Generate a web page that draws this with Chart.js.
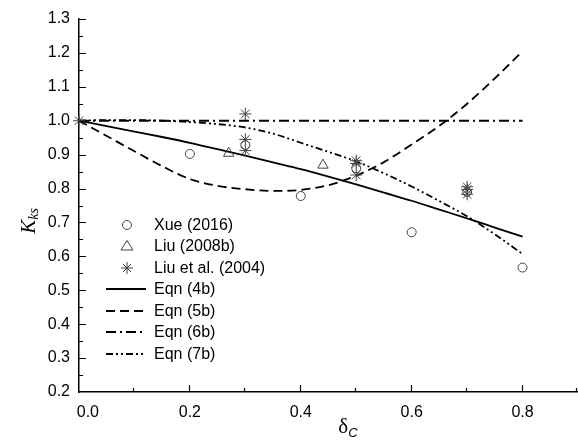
<!DOCTYPE html>
<html>
<head>
<meta charset="utf-8">
<script src="https://cdn.jsdelivr.net/npm/chart.js@4.4.1/dist/chart.umd.min.js"></script>
<style>
  html, body { margin: 0; padding: 0; background: #fff; overflow: hidden; }
  #wrap { position: relative; width: 578px; height: 444px; overflow: hidden; }
  canvas { position: absolute; left: 0; top: 0; }
  .lg { position: absolute; font-family: "Liberation Sans", Arial, sans-serif; font-size: 16px; color: #000; line-height: 16px; white-space: nowrap; }
  .sym { position: absolute; }
  #ytitle { position: absolute; left: 29px; top: 221px; transform: translate(-50%, -50%) rotate(-90deg); font-family: "Liberation Serif", "Times New Roman", serif; font-size: 21px; white-space: nowrap; color: #000; }
  #ytitle sub { font-size: 14px; vertical-align: -3px; }
  #xtitle { position: absolute; left: 348px; top: 427px; transform: translate(-50%, -50%); font-family: "Liberation Serif", "Times New Roman", serif; font-size: 21px; white-space: nowrap; color: #000; }
  #xtitle sub { font-size: 13px; font-style: italic; vertical-align: -4px; font-family: "Liberation Sans", Arial, sans-serif; }
</style>
</head>
<body>
<div id="wrap">
  <!-- canvas is 11px wider than the view: Chart.js reserves 11px (tick padding) at the right,
       so the 0.9 end of the x axis lands exactly on the right edge of the 578px picture -->
  <canvas id="c" width="589" height="444"></canvas>
  <div id="ytitle"><i>K</i><sub><i>ks</i></sub></div>
  <div id="xtitle">δ<sub>C</sub></div>
  <div id="legend"></div>
</div>
<script>
// ---------- data ----------
const xTickLabels = ['0.0', '0.2', '0.4', '0.6', '0.8'];
const yTickLabels = ['0.2', '0.3', '0.4', '0.5', '0.6', '0.7', '0.8', '0.9', '1.0', '1.1', '1.2', '1.3'];

const xueX = [0.2, 0.3, 0.4, 0.5, 0.6, 0.7, 0.8];
const xueY = [0.902, 0.928, 0.778, 0.860, 0.671, 0.790, 0.567];

const liu2008X = [0.27, 0.44];
const liu2008Y = [0.904, 0.869];

const liu2004X = [0.0, 0.3, 0.3, 0.3, 0.5, 0.5, 0.5, 0.7, 0.7, 0.7];
const liu2004Y = [1.0, 1.02, 0.945, 0.912, 0.882, 0.874, 0.840, 0.805, 0.797, 0.783];

const eqnX   = [0, 0.05, 0.1, 0.15, 0.2, 0.25, 0.3, 0.35, 0.4, 0.45, 0.5, 0.55, 0.6, 0.65, 0.7, 0.75, 0.8];
const eqn4bY = [1.0, 0.984, 0.968, 0.952, 0.935, 0.916, 0.897, 0.877, 0.857, 0.835, 0.812, 0.788, 0.764, 0.738, 0.712, 0.685, 0.658];
const eqn5bY = [1.0, 0.955, 0.910, 0.866, 0.828, 0.808, 0.798, 0.793, 0.796, 0.810, 0.838, 0.878, 0.930, 0.985, 1.050, 1.125, 1.205];
const eqn6bX = [0, 0.8];
const eqn6bY = [1.0, 1.0];
const eqn7bY = [1.0, 1.002, 1.002, 1.0, 0.996, 0.990, 0.980, 0.962, 0.935, 0.908, 0.880, 0.845, 0.806, 0.763, 0.718, 0.665, 0.607];

const seriesNames = ['Xue (2016)', 'Liu (2008b)', 'Liu et al. (2004)', 'Eqn (4b)', 'Eqn (5b)', 'Eqn (6b)', 'Eqn (7b)'];

// ---------- helpers ----------
const zip = (xs, ys) => xs.map((x, i) => ({ x: x, y: ys[i] }));
const MARK = '#444';
const dashes = {
  solid: [],
  dash: [9, 5],
  dashDot: [10, 4, 2, 4],
  dashDotDot: [7, 3, 2, 3, 2, 3]
};

function lineDS(label, xs, ys, dash) {
  return {
    label: label, data: zip(xs, ys), showLine: true, borderColor: '#000', borderWidth: 1.8,
    borderDash: dash, pointRadius: 0, cubicInterpolationMode: 'monotone', fill: false, clip: false, order: 2
  };
}
function markDS(label, xs, ys, style, r) {
  return {
    label: label, data: zip(xs, ys), showLine: false, pointStyle: style, pointRadius: r,
    pointBorderColor: MARK, pointBackgroundColor: 'rgba(255,255,255,0)', pointBorderWidth: 1,
    clip: false, order: 1
  };
}

const datasets = [
  lineDS(seriesNames[3], eqnX, eqn4bY, dashes.solid),
  lineDS(seriesNames[4], eqnX, eqn5bY, dashes.dash),
  lineDS(seriesNames[5], eqn6bX, eqn6bY, dashes.dashDot),
  lineDS(seriesNames[6], eqnX, eqn7bY, dashes.dashDotDot),
  markDS(seriesNames[0], xueX, xueY, 'circle', 4.5),
  markDS(seriesNames[1], liu2008X, liu2008Y, 'triangle', 6),
  markDS(seriesNames[2], liu2004X, liu2004Y, 'star', 6)
];

// inward tick marks drawn from the library's scales
const inwardTicks = {
  id: 'inwardTicks',
  afterDatasetsDraw(chart) {
    const ctx = chart.ctx, xs = chart.scales.x, ys = chart.scales.y;
    const bottom = chart.chartArea.bottom, left = chart.chartArea.left;
    ctx.save();
    ctx.strokeStyle = '#000';
    ctx.lineWidth = 1.2;
    ctx.beginPath();
    for (let i = 1; i <= 9; i++) {
      const px = Math.min(Math.round(xs.getPixelForValue(i / 10)) - 0.5, 576.5);
      const len = (i % 2 === 0) ? 7 : 4;
      ctx.moveTo(px, bottom);
      ctx.lineTo(px, bottom - len);
    }
    for (let i = 1; i <= 22; i++) {
      const py = Math.round(ys.getPixelForValue(0.2 + i * 0.05)) + 0.5;
      const len = (i % 2 === 0) ? 7 : 4;
      ctx.moveTo(left, py);
      ctx.lineTo(left + len, py);
    }
    ctx.stroke();
    ctx.restore();
  }
};

Chart.defaults.font.family = '"Liberation Sans", Arial, sans-serif';
Chart.defaults.font.size = 16;
Chart.defaults.color = '#000';

new Chart(document.getElementById('c'), {
  type: 'scatter',
  data: { datasets: datasets },
  options: {
    responsive: false,
    animation: false,
    devicePixelRatio: 1,
    layout: { padding: { top: 19, right: 0, left: 0, bottom: 0 } },
    plugins: { legend: { display: false }, tooltip: { enabled: false } },
    scales: {
      x: {
        type: 'linear', min: 0, max: 0.9,
        grid: { display: false, drawTicks: false },
        border: { display: true, color: '#000', width: 1.5 },
        ticks: {
          stepSize: 0.1, autoSkip: false, maxRotation: 0, padding: 11,
          callback: (v) => {
            const s = (Math.round(v * 10) / 10).toFixed(1);
            if (!xTickLabels.includes(s)) return '';
            return s === '0.0' ? '    0.0' : s;
          }
        },
        afterFit: (s) => { s.height = 52; }
      },
      y: {
        type: 'linear', min: 0.2, max: 1.3,
        grid: { display: false, drawTicks: false },
        border: { display: true, color: '#000', width: 1.5 },
        ticks: {
          stepSize: 0.1, autoSkip: false, padding: 9,
          callback: (v) => {
            const s = (Math.round(v * 10) / 10).toFixed(1);
            return yTickLabels.includes(s) ? s : '';
          }
        },
        afterFit: (s) => { s.width = 79; }
      }
    }
  },
  plugins: [inwardTicks]
});

// ---------- in-plot legend (HTML text + small SVG samples) ----------
const legendRows = [
  { name: seriesNames[0], kind: 'circle' },
  { name: seriesNames[1], kind: 'triangle' },
  { name: seriesNames[2], kind: 'star' },
  { name: seriesNames[3], kind: 'line', dash: dashes.solid },
  { name: seriesNames[4], kind: 'line', dash: dashes.dash },
  { name: seriesNames[5], kind: 'line', dash: dashes.dashDot },
  { name: seriesNames[6], kind: 'line', dash: dashes.dashDotDot }
];
const lg = document.getElementById('legend');
legendRows.forEach((r, i) => {
  const cy = 224.5 + i * 21.5;
  let svg = '';
  if (r.kind === 'circle') {
    svg = '<circle cx="21" cy="8" r="4.5" fill="none" stroke="' + MARK + '" stroke-width="1"/>';
  } else if (r.kind === 'triangle') {
    svg = '<polygon points="21,2.5 27,12 15,12" fill="none" stroke="' + MARK + '" stroke-width="1"/>';
  } else if (r.kind === 'star') {
    svg = '<g stroke="' + MARK + '" stroke-width="1"><line x1="21" y1="2" x2="21" y2="14"/><line x1="15" y1="8" x2="27" y2="8"/><line x1="16.8" y1="3.8" x2="25.2" y2="12.2"/><line x1="16.8" y1="12.2" x2="25.2" y2="3.8"/></g>';
  } else {
    svg = '<line x1="0" y1="8" x2="40" y2="8" stroke="#000" stroke-width="1.8" stroke-dasharray="' + (r.dash.length ? r.dash.join(',') : 'none') + '"/>';
  }
  const s = document.createElement('div');
  s.className = 'sym';
  s.style.left = '106px';
  s.style.top = (cy - 8) + 'px';
  s.innerHTML = '<svg width="42" height="16" xmlns="http://www.w3.org/2000/svg">' + svg + '</svg>';
  lg.appendChild(s);
  const t = document.createElement('div');
  t.className = 'lg';
  t.style.left = '154px';
  t.style.top = (cy - 8) + 'px';
  t.textContent = r.name;
  lg.appendChild(t);
});
</script>
</body>
</html>
